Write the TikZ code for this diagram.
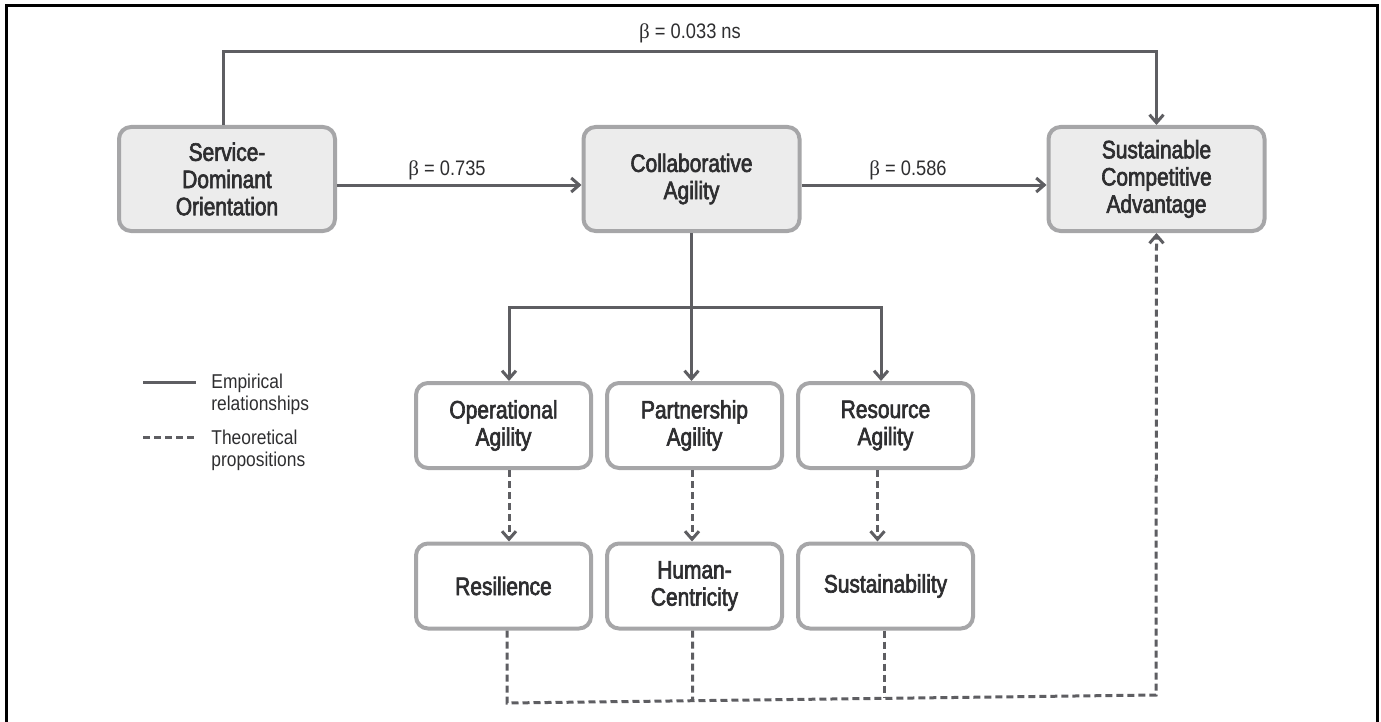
\documentclass[tikz,border=0pt]{standalone}
\usepackage{fontspec}
\setmainfont{Liberation Sans}[FakeStretch=0.87]
\newfontfamily\boxfont{Liberation Sans}[FakeStretch=0.83,FakeBold=2.5]
\newfontfamily\betafont{Liberation Serif}
\usetikzlibrary{arrows.meta}
\definecolor{boxline}{HTML}{A6A6A8}
\definecolor{boxfill}{HTML}{ECECEC}
\definecolor{connc}{HTML}{5E5E62}
\definecolor{txt}{HTML}{2E2E30}
\begin{document}
\begin{tikzpicture}[x=0.5pt,y=-0.5pt,
 bigbox/.style={draw=boxline, line width=2pt, fill=boxfill, rounded corners=6pt, minimum width=108pt, minimum height=52pt, align=center, text=txt, font=\boxfont\fontsize{12.6}{13.6}\selectfont, inner sep=0pt},
 smallbox/.style={bigbox, fill=white, minimum width=87.5pt, minimum height=42.5pt},
 link/.style={draw=connc, line width=1.5pt},
 tip/.style={-{Straight Barb[length=4pt,width=7pt]}},
 theory/.style={link, dash pattern=on 3.5pt off 2pt},
 lbl/.style={text=txt, font=\fontsize{10.5}{12}\selectfont, inner sep=0pt},
 legtext/.style={text=txt, font=\fontsize{10}{11}\selectfont, align=left, inner sep=0pt, anchor=west}]
\useasboundingbox (0,0) rectangle (1381,722);
\draw[black, line width=1.5pt] (6,722) -- (6,6) -- (1377,6) -- (1377,722);

\node[bigbox] (sdo) at (227,179) {Service-\\Dominant\\Orientation};
\node[bigbox] (ca) at (691.5,179) {Collaborative\\Agility};
\node[bigbox] (sca) at (1156.5,179) {Sustainable\\Competitive\\Advantage};
\node[smallbox] (op) at (503.5,425.5) {Operational\\Agility};
\node[smallbox] (pa) at (694.5,425.5) {Partnership\\Agility};
\node[smallbox] (ra) at (885.5,425.5) {Resource\\Agility};
\node[smallbox] (resil) at (503.5,586) {Resilience};
\node[smallbox] (human) at (694.5,586) {Human-\\Centricity};
\node[smallbox] (sust) at (885.5,586) {Sustainability};

\draw[link,tip] ([xshift=-2pt]sdo.north) -- ([xshift=-2pt]sdo.north |- 0,52) -| (sca.north);
\node[lbl] (b3) at (690,33) {{\betafont β} = 0.033 ns};
\draw[link,tip] ([yshift=-3pt]sdo.east) -- ([yshift=-3pt]ca.west);
\node[lbl] (b1) at (447,170) {{\betafont β} = 0.735};
\draw[link,tip] ([yshift=-3pt]ca.east) -- ([yshift=-3pt]sca.west);
\node[lbl] (b2) at (908,170) {{\betafont β} = 0.586};

\draw[link] (ca.south) -- (ca.south |- 0,307) coordinate (br);
\draw[link,tip] (br) -| ([xshift=2.75pt]op.north);
\draw[link,tip] (br) -| ([xshift=-2.25pt]ra.north);
\draw[link,tip] (br) -- (br |- pa.north);

\draw[theory,tip] ([xshift=2.75pt]op.south) -- ([xshift=2.75pt]resil.north);
\draw[theory,tip] ([xshift=-1.25pt]pa.south) -- ([xshift=-1.25pt]human.north);
\draw[theory,tip] ([xshift=-4pt]ra.south) -- ([xshift=-4pt]sust.north);

\coordinate (bl) at (507,703);
\coordinate (bturn) at (1156,695);
\coordinate (jh) at (692.7,700.7);
\coordinate (js) at (884,698.4);
\draw[theory,tip] ([xshift=1.75pt]resil.south) -- (bl) -- (bturn) -- (sca.south);
\draw[theory] ([xshift=-0.9pt]human.south) -- (jh);
\draw[theory] ([xshift=-0.75pt]sust.south) -- (js);

\draw[link] (143,382) -- (196,382);
\node[legtext] (l1) at (211,394) {Empirical\\relationships};
\draw[theory] (143,437) -- (196,437);
\node[legtext] (l2) at (211,450) {Theoretical\\propositions};
\end{tikzpicture}
\end{document}
